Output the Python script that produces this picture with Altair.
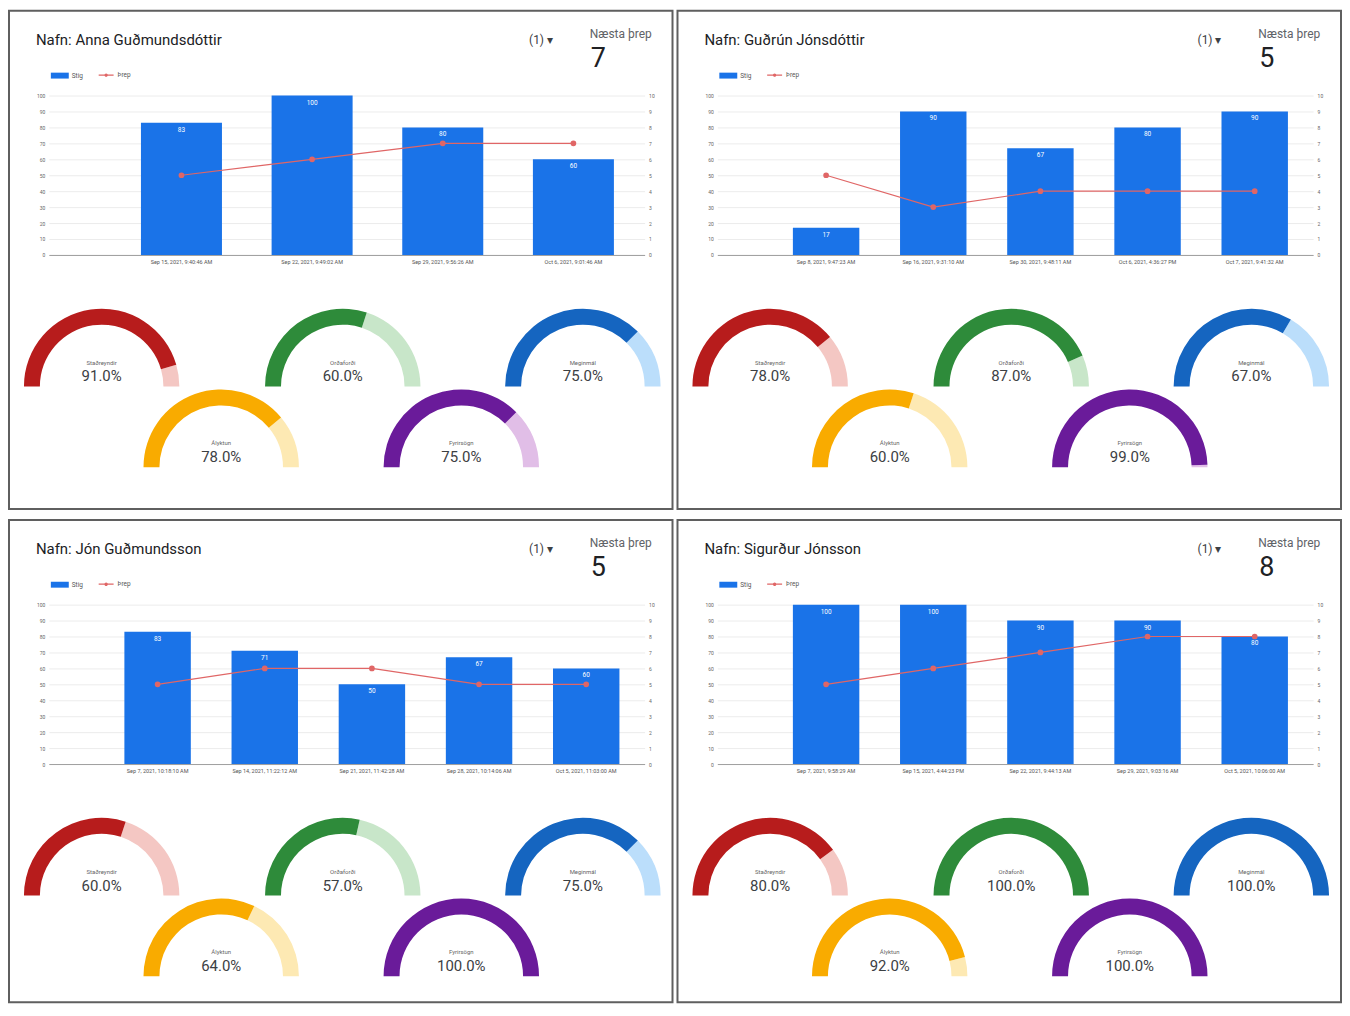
import altair as alt
import pandas as pd

# ---------------- data ----------------
NAMES = ["Anna Guðmundsdóttir", "Guðrún Jónsdóttir", "Jón Guðmundsson", "Sigurður Jónsson"]
NEXT_LEVEL = [7, 5, 5, 8]
DATES = [
    ["Sep 15, 2021, 9:40:46 AM", "Sep 22, 2021, 9:49:02 AM", "Sep 29, 2021, 9:56:26 AM",
     "Oct 6, 2021, 9:01:46 AM"],
    ["Sep 8, 2021, 9:47:23 AM", "Sep 16, 2021, 9:31:10 AM", "Sep 30, 2021, 9:48:11 AM",
     "Oct 6, 2021, 4:36:27 PM", "Oct 7, 2021, 9:41:32 AM"],
    ["Sep 7, 2021, 10:18:10 AM", "Sep 14, 2021, 11:22:12 AM", "Sep 21, 2021, 11:42:28 AM",
     "Sep 28, 2021, 10:14:06 AM", "Oct 5, 2021, 11:03:00 AM"],
    ["Sep 7, 2021, 9:58:29 AM", "Sep 15, 2021, 4:44:23 PM", "Sep 22, 2021, 9:44:13 AM",
     "Sep 29, 2021, 9:03:16 AM", "Oct 5, 2021, 10:06:00 AM"],
]
STIG = [[83, 100, 80, 60], [17, 90, 67, 80, 90], [83, 71, 50, 67, 60], [100, 100, 90, 90, 80]]
THREP = [[5, 6, 7, 7], [5, 3, 4, 4, 4], [5, 6, 6, 5, 5], [5, 6, 7, 8, 8]]
GAUGE_NAMES = ["Staðreyndir", "Orðaforði", "Meginmál", "Ályktun", "Fyrirsögn"]
GAUGE_VALUES = [[91, 60, 75, 78, 75], [78, 87, 67, 60, 99], [60, 57, 75, 64, 100], [80, 100, 100, 92, 100]]

# ---------------- style / layout ----------------
FONT = "Roboto"
BLUE = "#1a73e8"
RED = "#e06666"
GAUGE_COLORS = [("#b71c1c", "#f4c7c3"), ("#2e8b3a", "#c8e6c9"), ("#1565c0", "#bbdefb"),
                ("#f9ab00", "#fde9b3"), ("#6a1b9a", "#e1bee7")]
GAUGE_POS = [(93, 377), (335, 377), (576, 377), (213, 458), (454, 458)]
PW = 666
X0, X1 = 40, 638
Y0, Y100 = 245, 85
R_OUT, R_IN = 78, 62
THETA = alt.Scale(domain=[0, 100], range=[4.71239, 7.85398])


def panel(i, height):
    df = pd.DataFrame({"dags": DATES[i], "stig": STIG[i], "threp": THREP[i]})
    gdf = pd.DataFrame({"flokkur": GAUGE_NAMES, "gildi": GAUGE_VALUES[i]})
    hdf = pd.DataFrame({"nafn": ["Nafn: " + NAMES[i]], "naesta": [str(NEXT_LEVEL[i])]})

    def xs():
        return alt.Scale(type="band", range=[X0, X1], paddingInner=0.38, paddingOuter=0.47, align=0.75)

    def ys(top):
        return alt.Scale(domain=[0, top], range=[Y0, Y100])

    base = alt.Chart(df)
    bars = base.transform_calculate(serie='"Stig"').mark_bar().encode(
        x=alt.X("dags:N", sort=None, scale=xs(),
                axis=alt.Axis(title=None, orient="bottom", offset=-(height - Y0), labelAngle=0,
                              labelFontSize=5.5, labelColor="#555", ticks=False,
                              domainColor="#9e9e9e", labelPadding=5, labelLimit=0)),
        y=alt.Y("stig:Q", scale=ys(100),
                axis=alt.Axis(title=None, orient="left", offset=-X0, values=list(range(0, 101, 10)),
                              domain=False, ticks=False, labelFontSize=5, labelColor="#666",
                              grid=True, gridColor="#ececec", labelPadding=4)),
        fill=alt.Fill("serie:N", scale=alt.Scale(domain=["Stig"], range=[BLUE]),
                      legend=alt.Legend(title=None, orient="none", legendX=42, legendY=56,
                                        symbolType="M-1,-0.33H1V0.33H-1Z", symbolSize=324,
                                        labelFontSize=6.5, labelColor="#555", labelOffset=3,
                                        symbolStrokeWidth=0)),
    )
    bar_text = base.mark_text(color="white", fontSize=6.5, baseline="top", dy=4).encode(
        x=alt.X("dags:N", sort=None, scale=xs(), axis=None, bandPosition=0.5),
        y=alt.Y("stig:Q", scale=ys(100), axis=None),
        text="stig:Q",
    )
    line = base.transform_calculate(serie='"Þrep"').mark_line(
        strokeWidth=1.2, point=alt.OverlayMarkDef(filled=True, size=14, color=RED)
    ).encode(
        x=alt.X("dags:N", sort=None, scale=xs(), axis=None, bandPosition=0.5),
        y=alt.Y("threp:Q", scale=ys(10),
                axis=alt.Axis(title=None, orient="right", offset=-(PW - X1), values=list(range(0, 11)),
                              domain=False, ticks=False, labelFontSize=5, labelColor="#666",
                              grid=False, labelPadding=4)),
        stroke=alt.Stroke("serie:N", scale=alt.Scale(domain=["Þrep"], range=[RED]),
                          legend=alt.Legend(title=None, orient="none", legendX=89, legendY=56,
                                            symbolType="M-1,0H1M0.15,0A0.15,0.15,0,1,1,-0.15,0A0.15,0.15,0,1,1,0.15,0",
                                            symbolSize=225, symbolStrokeWidth=1.2,
                                            labelFontSize=6.5, labelColor="#555", labelOffset=3)),
    )

    hbase = alt.Chart(hdf)
    title = hbase.mark_text(align="left", baseline="middle", fontSize=15, color="#202124").encode(
        x=alt.value(27), y=alt.value(29), text="nafn:N")
    dropdown = hbase.mark_text(align="left", baseline="middle", fontSize=12, color="#3c4043",
                               text="(1)  ▾").encode(x=alt.value(522), y=alt.value(29))
    naesta_lbl = hbase.mark_text(align="left", baseline="middle", fontSize=12, color="#5f6368",
                                 text="Næsta þrep").encode(x=alt.value(583), y=alt.value(23))
    naesta_val = hbase.mark_text(align="left", baseline="middle", fontSize=27, color="#202124").encode(
        x=alt.value(584), y=alt.value(48), text="naesta:N")

    layers = [bars, bar_text, line, title, dropdown, naesta_lbl, naesta_val]

    for k, name in enumerate(GAUGE_NAMES):
        cx, cy = GAUGE_POS[k]
        dark, light = GAUGE_COLORS[k]
        g = alt.Chart(gdf).transform_filter(alt.datum.flokkur == name)
        bg = g.transform_calculate(hi="100").mark_arc(radius=R_OUT, radius2=R_IN, color=light).encode(
            x=alt.value(cx), y=alt.value(cy),
            theta=alt.Theta("gildi:Q", scale=THETA), theta2="hi:Q")
        fg = g.transform_calculate(lo="0").mark_arc(radius=R_OUT, radius2=R_IN, color=dark).encode(
            x=alt.value(cx), y=alt.value(cy),
            theta=alt.Theta("lo:Q", scale=THETA), theta2="gildi:Q")
        lab = g.mark_text(fontSize=6, color="#666").encode(
            x=alt.value(cx), y=alt.value(cy - 24), text="flokkur:N")
        val = g.transform_calculate(txt="format(datum.gildi, '.1f') + '%'").mark_text(
            fontSize=15, color="#3c4043").encode(
            x=alt.value(cx), y=alt.value(cy - 10), text="txt:N")
        layers += [bg, fg, lab, val]

    return alt.layer(*layers).resolve_scale(x="independent", y="independent").properties(
        width=PW, height=height)


def row(a, b):
    return alt.hconcat(a, b, spacing=3).resolve_scale(
        fill="independent", stroke="independent").resolve_legend(
        fill="independent", stroke="independent")


chart = alt.vconcat(row(panel(0, 500), panel(1, 500)), row(panel(2, 484), panel(3, 484)),
                    spacing=9).resolve_scale(
    fill="independent", stroke="independent").resolve_legend(
    fill="independent", stroke="independent").properties(padding=0).configure(
    font=FONT).configure_view(stroke="#5f5f5f", strokeWidth=2)

chart.save("out.html", embed_options={"renderer": "svg", "actions": False})
